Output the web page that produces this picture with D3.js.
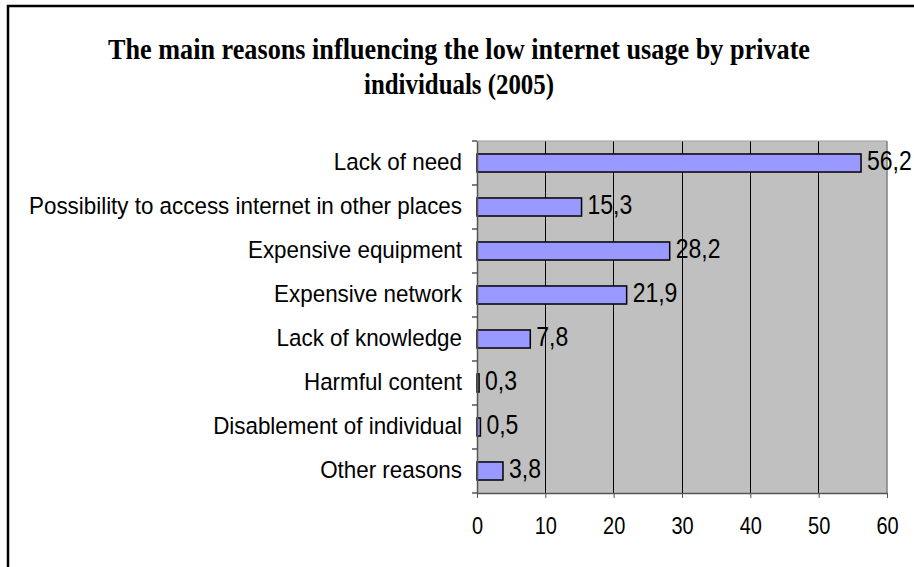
<!DOCTYPE html>
<html><head><meta charset="utf-8">
<script src="https://cdn.jsdelivr.net/npm/d3@7/dist/d3.min.js"></script>
<style>body{margin:0;background:#fff}svg{display:block}</style>
</head><body>
<svg id="c" width="914" height="567"></svg>
<script>
const titleLines = ["The main reasons influencing the low internet usage by private", "individuals (2005)"];
const categories = ["Lack of need","Possibility to access internet in other places","Expensive equipment","Expensive network","Lack of knowledge","Harmful content","Disablement of individual","Other reasons"];
const values = [56.2,15.3,28.2,21.9,7.8,0.3,0.5,3.8];
const valueLabels = ["56,2","15,3","28,2","21,9","7,8","0,3","0,5","3,8"];
const xTicks = [0,10,20,30,40,50,60];

const svg = d3.select("#c");
const m = {left:477, right:887, top:141, bottom:493};

svg.append("rect").attr("x",8).attr("y",6).attr("width",920).attr("height",580)
  .attr("fill","none").attr("stroke","#000").attr("stroke-width",2.5);

const x = d3.scaleLinear().domain([0,60]).range([m.left,m.right]);
const y = d3.scaleBand().domain(categories).range([m.top,m.bottom]).paddingInner(0.59).paddingOuter(0.295);

svg.append("rect").attr("x",m.left).attr("y",m.top).attr("width",m.right-m.left).attr("height",m.bottom-m.top).attr("fill","#c0c0c0");

// grid
svg.append("g").selectAll("line").data(xTicks.filter(t=>t>0&&t<60)).join("line")
  .attr("x1",d=>x(d)).attr("x2",d=>x(d)).attr("y1",m.top).attr("y2",m.bottom)
  .attr("stroke","#000").attr("stroke-width",1).attr("shape-rendering","crispEdges");
svg.append("line").attr("x1",m.right).attr("x2",m.right).attr("y1",m.top).attr("y2",m.bottom).attr("stroke","#808080").attr("stroke-width",1.5);
svg.append("line").attr("x1",m.left).attr("x2",m.right).attr("y1",m.top).attr("y2",m.top).attr("stroke","#a0a0a0").attr("stroke-width",1);

// bars
svg.append("g").selectAll("rect").data(values).join("rect")
  .attr("x",x(0)).attr("y",(d,i)=>y(categories[i]))
  .attr("width",d=>x(d)-x(0)).attr("height",y.bandwidth())
  .attr("fill","#9999ff").attr("stroke","#000").attr("stroke-width",1.5);

// x axis
const xa = svg.append("g").attr("transform",`translate(0,${m.bottom})`)
  .call(d3.axisBottom(x).tickValues(xTicks).tickSize(5).tickSizeOuter(0).tickFormat(d3.format("d")));
xa.select(".domain").attr("stroke","#555").attr("stroke-width",1.5);
xa.selectAll(".tick line").attr("stroke","#555");
xa.selectAll("text").attr("font-family","Liberation Sans, Arial, sans-serif").attr("font-size",20).attr("fill","#000")
  .attr("y",35).attr("dy",null).attr("dominant-baseline","middle")
  .attr("transform","translate(0,35) scale(1,1.2) translate(0,-35)");

// y axis
const ya = svg.append("g").attr("transform",`translate(${m.left},0)`)
  .call(d3.axisLeft(y).tickSize(0).tickPadding(15));
ya.select(".domain").attr("stroke","#555").attr("stroke-width",1.5);
ya.selectAll("text").attr("font-family","Liberation Sans, Arial, sans-serif").attr("font-size",22.4).attr("fill","#000")
  .attr("dy",null).attr("dominant-baseline","middle")
  .attr("transform","scale(1,1.1)");
const bounds = d3.range(categories.length+1).map(i=>m.top+i*(m.bottom-m.top)/categories.length);
svg.append("g").selectAll("line").data(bounds).join("line")
  .attr("x1",m.left-5).attr("x2",m.left).attr("y1",d=>d).attr("y2",d=>d).attr("stroke","#555").attr("stroke-width",1.5);

// value labels
svg.append("g").selectAll("text").data(values).join("text")
  .attr("x",d=>x(d)+6).attr("y",(d,i)=>y(categories[i])+y.bandwidth()/2)
  .attr("dominant-baseline","middle")
  .attr("font-family","Liberation Sans, Arial, sans-serif").attr("font-size",23).attr("fill","#000")
  .attr("transform",function(d,i){const cy=y(categories[i])+y.bandwidth()/2;return `translate(0,${cy}) scale(1,1.2) translate(0,${-cy})`;})
  .text((d,i)=>valueLabels[i]);

// title
const tl = [[59,702],[94,190]];
svg.append("g").selectAll("text").data(titleLines).join("text")
  .attr("x",459).attr("y",(d,i)=>tl[i][0])
  .attr("text-anchor","middle")
  .attr("font-family","Liberation Serif, Times New Roman, serif").attr("font-weight","bold").attr("font-size",25)
  .attr("textLength",(d,i)=>tl[i][1]).attr("lengthAdjust","spacingAndGlyphs")
  .attr("transform",(d,i)=>`translate(0,${tl[i][0]}) scale(1,1.15) translate(0,${-tl[i][0]})`)
  .text(d=>d);
</script>
</body></html>
